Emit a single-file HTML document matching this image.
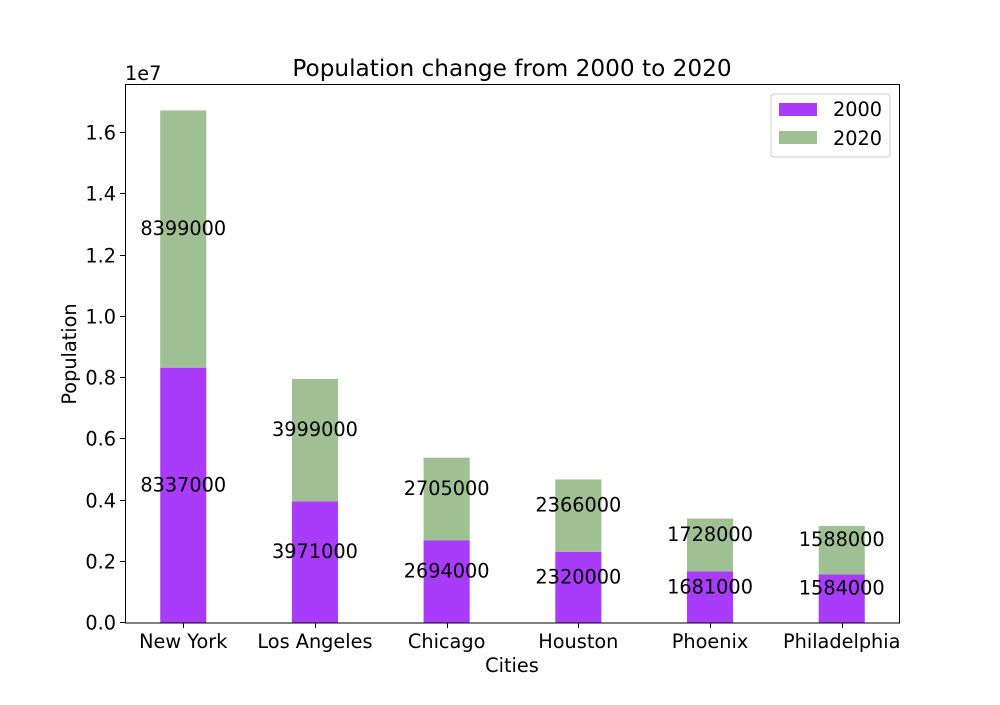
<!DOCTYPE html>
<html><head><meta charset="utf-8"><style>
body{margin:0;background:#fff}
svg text{font-family:"DejaVu Sans","Liberation Sans",sans-serif;fill:#000}
</style></head><body>
<svg id="chart" width="1000" height="700">
<rect width="1000" height="700" fill="#fff"/>
<text x="512" y="76" font-size="23.2" text-anchor="middle">Population change from 2000 to 2020</text>
<text x="125" y="80" font-size="19.3">1e7</text>
<text x="512" y="672" font-size="19.3" text-anchor="middle">Cities</text>
<text transform="translate(76,354) rotate(-90)" font-size="19.3" text-anchor="middle">Population</text>
<g id="marks"></g>
<rect x="125.5" y="84.5" width="774" height="538.5" fill="none" stroke="#000" stroke-width="1"/>
<g>
<rect x="771" y="94" width="119" height="63" rx="3" fill="#fff" stroke="#ccc"/>
<rect x="779" y="103" width="38" height="13" fill="#a83cfa"/>
<text x="833" y="116" font-size="19.3">2000</text>
<rect x="779" y="131" width="38" height="13" fill="#9fc093"/>
<text x="833" y="145" font-size="19.3">2020</text>
</g>
</svg>
<script>
const categories=["New York","Los Angeles","Chicago","Houston","Phoenix","Philadelphia"];
const pop2000=[8337000,3971000,2694000,2320000,1681000,1584000];
const pop2020=[8399000,3999000,2705000,2366000,1728000,1588000];
const yTicks=[0,0.2,0.4,0.6,0.8,1.0,1.2,1.4,1.6];
const ns="http://www.w3.org/2000/svg";
const g=document.getElementById('marks');
const x0=125,x1=900,y0=623,y1=84;
const xmin=-0.4425,xmax=5.4425,ymax=1.76e7;
const xs=i=>x0+(i-xmin)/(xmax-xmin)*(x1-x0);
const ys=v=>y0-v/ymax*(y0-y1);
const bw=0.35*(x1-x0)/(xmax-xmin);
function mk(t,a){const e=document.createElementNS(ns,t);for(const k in a)e.setAttribute(k,a[k]);g.appendChild(e);return e;}
yTicks.forEach(t=>{const y=Math.round(ys(t*1e7))-0.5;
const l=mk('line',{x1:x0-5,x2:x0,y1:y,y2:y,stroke:'#000'});


const tx=mk('text',{x:x0-9,y:y+7,'font-size':19.3,'text-anchor':'end'});tx.textContent=t.toFixed(1);

});
categories.forEach((c,i)=>{const cx=xs(i);
const a=pop2000[i],b=pop2020[i];
const r1=mk('rect',{x:cx-bw/2,y:ys(a),width:bw,height:y0-ys(a),fill:'#a83cfa'});


const r2=mk('rect',{x:cx-bw/2,y:ys(a+b),width:bw,height:ys(a)-ys(a+b),fill:'#9fc093'});


const t1=mk('text',{x:cx,y:ys(a/2)-4,'font-size':19.3,'text-anchor':'middle'});t1.textContent=a;


const t2=mk('text',{x:cx,y:ys(a+b/2)-4,'font-size':19.3,'text-anchor':'middle'});t2.textContent=b;


const tx0=Math.round(cx)+0.5;
const tk=mk('line',{x1:tx0,x2:tx0,y1:y0,y2:y0+5,stroke:'#000'});


const tl=mk('text',{x:cx,y:y0+25,'font-size':19.3,'text-anchor':'middle'});tl.textContent=c;

});
</script>
</body></html>
